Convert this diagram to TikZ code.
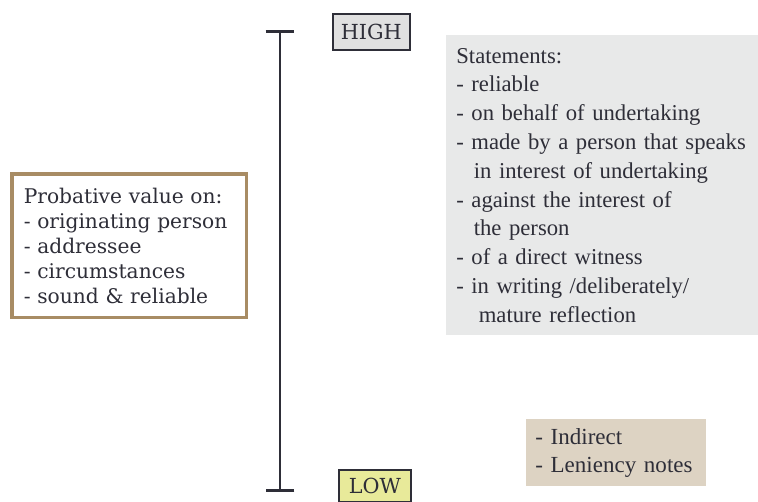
\documentclass[tikz,border=0pt]{standalone}
\usepackage{fontspec}
\setmainfont{Liberation Serif}
\newfontfamily\slabfont{DejaVu Serif}
\usetikzlibrary{arrows.meta,positioning}
\definecolor{penColor}{HTML}{2E2E38}
\definecolor{highFill}{HTML}{E0E0E0}
\definecolor{lowFill}{HTML}{E8EA9A}
\definecolor{frameBrown}{HTML}{A88C64}
\definecolor{stmtFill}{HTML}{E8E9E9}
\definecolor{noteFill}{HTML}{DDD3C3}
\tikzset{
  levelbox/.style={draw=penColor,line width=0.9pt,text=penColor,font=\slabfont\fontsize{11.8}{13}\selectfont,inner sep=0pt},
  listbox/.style={anchor=north west,align=left,inner sep=0pt,text=penColor},
}

\begin{document}
\begin{tikzpicture}[x=0.02cm,y=-0.02cm]
				\useasboundingbox (0,0) rectangle (758,502);
				\coordinate (top) at (280,30);
				\coordinate (bot) at (280,492);
				\draw[penColor,line width=1.7pt,{Bar[width=0.58cm]}-{Bar[width=0.58cm]}] (top)--(bot);
				% levels
				\node[levelbox,fill=highFill,minimum width=1.54cm,minimum height=0.72cm,anchor=north west] (high) at (332,13) {HIGH};
				\node[levelbox,fill=lowFill,minimum width=1.44cm,minimum height=0.64cm,anchor=north west] (low) at (338,469) {LOW};
				% left box
				\node[listbox,draw=frameBrown,line width=2pt,fill=white,minimum width=4.7cm,minimum height=2.88cm,
				      inner xsep=0.24cm,text width=4.22cm,font=\slabfont\fontsize{11.5}{14.2}\selectfont] (probative) at (10,172)
				     {Probative value on:\\- originating person\\- addressee\\- circumstances\\- sound \& reliable};
				% statements
				\node[listbox,fill=stmtFill,minimum width=6.3cm,minimum height=6cm,inner xsep=0.2cm,text width=6.1cm,
				      font=\fontsize{12.9}{16.4}\selectfont] (stmts) at (446,35)
				     {Statements:\\- reliable\\- on behalf of undertaking\\- made by a person that speaks\\
				      \hspace*{0.35cm}in interest of undertaking\\- against the interest of\\\hspace*{0.35cm}the person\\
				      - of a direct witness\\- in writing /deliberately/\\\hspace*{0.45cm}mature reflection};
				\node[listbox,fill=noteFill,minimum width=3.6cm,minimum height=1.34cm,inner xsep=0.18cm,text width=3.24cm,
				      font=\fontsize{13.1}{16}\selectfont] (notes) at (526,419)
				     {- Indirect\\- Leniency notes};
\end{tikzpicture}
\end{document}
